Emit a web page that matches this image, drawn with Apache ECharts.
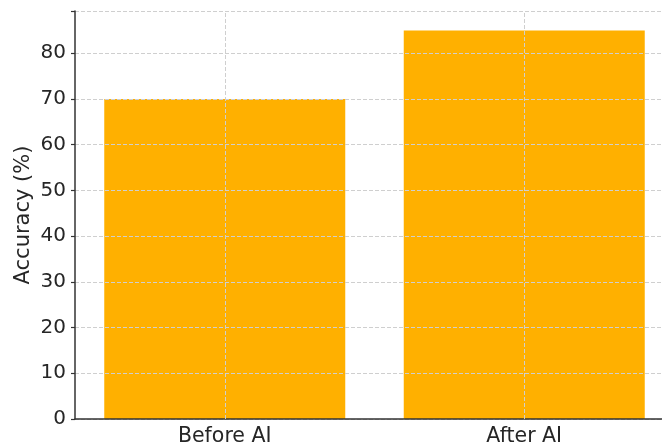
<!DOCTYPE html>
<html>
<head>
<meta charset="utf-8">
<script src="https://cdn.jsdelivr.net/npm/echarts@6/dist/echarts.min.js"></script>
<style>html,body{margin:0;padding:0;background:#fff}#c{width:662px;height:445px}</style>
</head>
<body>
<div id="c"></div>
<script>
const categories = ['Before AI', 'After AI'];
const accuracy = [70, 85];
const yTicks = [0, 10, 20, 30, 40, 50, 60, 70, 80];

const chart = echarts.init(document.getElementById('c'), null, {renderer: 'canvas'});
const gridLine = {color: '#cfcfcf', width: 1, type: [4, 2]};
chart.setOption({
  animation: false,
  backgroundColor: '#fff',
  grid: {left: 75, top: 11, width: 599, height: 408, containLabel: false, outerBoundsMode: 'none'},
  xAxis: {
    type: 'category',
    data: categories,
    boundaryGap: true,
    z: 3,
    axisLine: {lineStyle: {color: '#333', width: 1.5}},
    axisTick: {alignWithLabel: true, length: 4, lineStyle: {color: '#333', width: 1.2}},
    axisLabel: {color: '#262626', fontSize: 20.5, fontFamily: 'DejaVu Sans', margin: 7},
    splitLine: {show: false}
  },
  yAxis: {
    type: 'value',
    min: 0,
    max: 89.25,
    interval: 10,
    z: 3,
    name: 'Accuracy (%)',
    nameLocation: 'middle',
    nameGap: 41,
    nameMoveOverlap: false,
    nameTextStyle: {color: '#262626', fontSize: 21, fontFamily: 'DejaVu Sans'},
    axisLine: {show: true, lineStyle: {color: '#333', width: 1.5}},
    axisTick: {show: true, length: 4, lineStyle: {color: '#333', width: 1.2}},
    axisLabel: {
      color: '#262626', fontSize: 20, fontFamily: 'DejaVu Sans', margin: 9,
      formatter: v => (yTicks.indexOf(v) >= 0 ? String(v) : '')
    },
    splitLine: {show: true, lineStyle: gridLine}
  },
  series: [{
    type: 'bar',
    data: accuracy,
    barWidth: 241,
    itemStyle: {color: '#FFB000'},
    markLine: {
      silent: true,
      symbol: 'none',
      label: {show: false},
      lineStyle: gridLine,
      data: categories.map(c => ({xAxis: c}))
    }
  }]
});
</script>
</body>
</html>
